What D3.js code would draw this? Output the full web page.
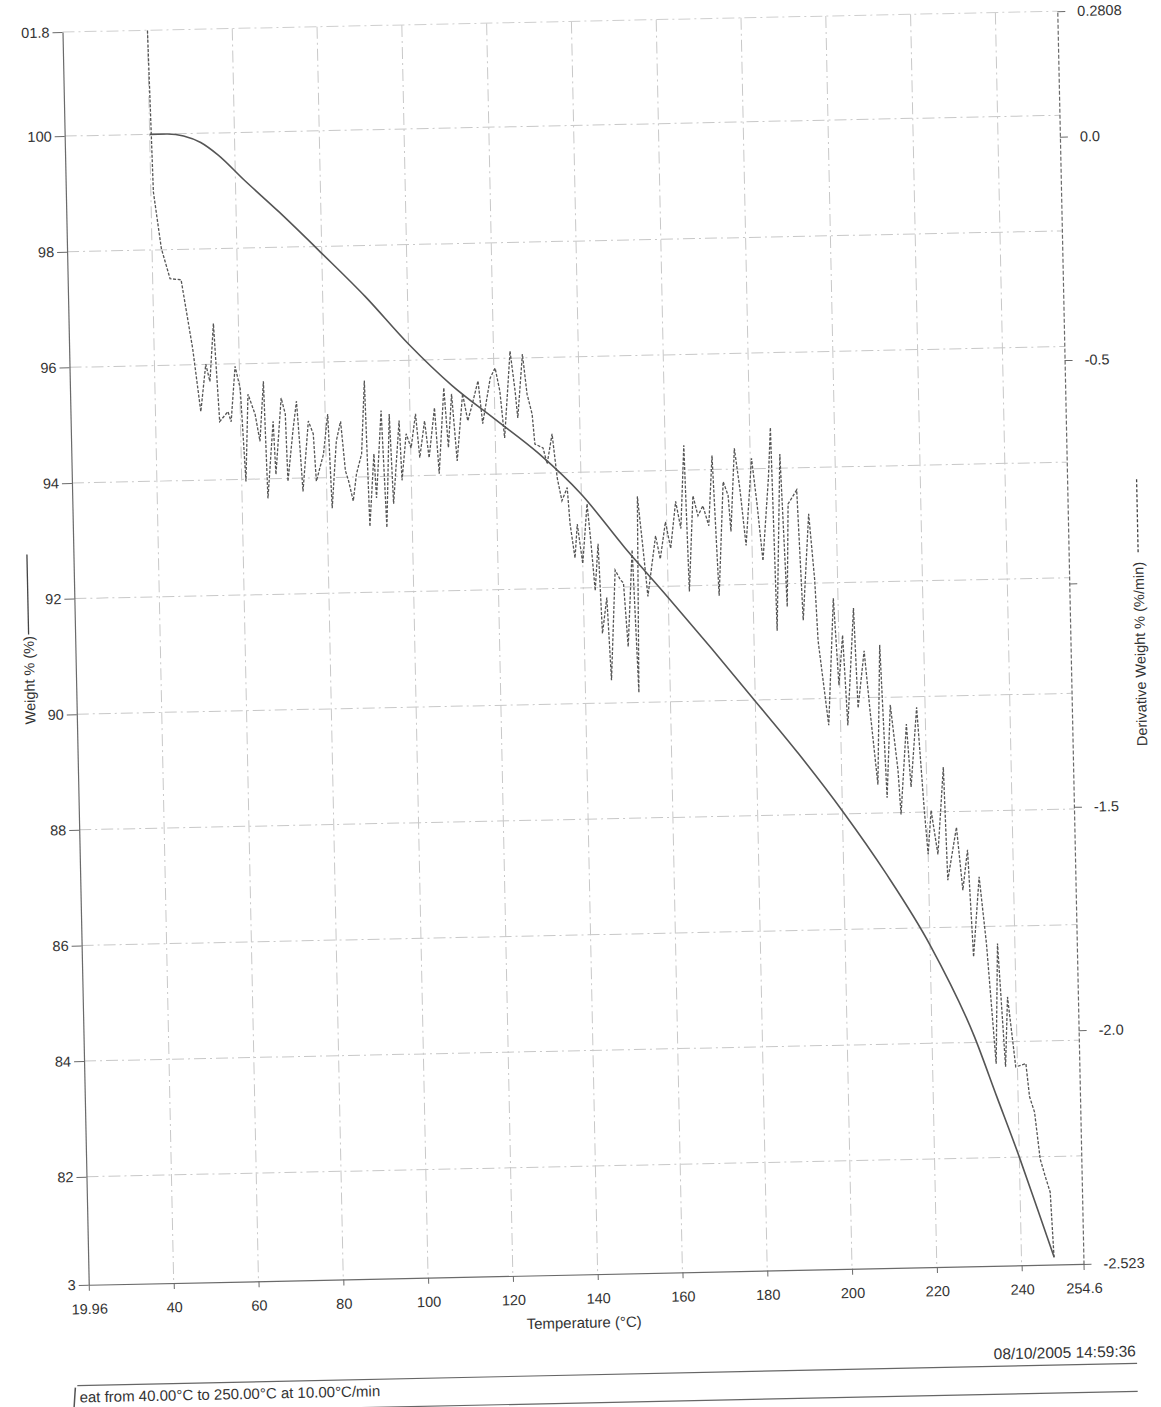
<!DOCTYPE html>
<html><head><meta charset="utf-8">
<script src="https://cdn.jsdelivr.net/npm/d3@7"></script>
<style>
body{margin:0;background:#fff;}
text{font-family:"Liberation Sans",Arial,sans-serif;fill:#333;}
</style>
</head><body>
<svg id="chart" width="1161" height="1407"></svg>
<script>
// ---- data ----
const tempTicks = [19.96, 40, 60, 80, 100, 120, 140, 160, 180, 200, 220, 240, 254.6];
const tempTickLabels = ["19.96","40","60","80","100","120","140","160","180","200","220","240","254.6"];
const weightTicks = [101.8, 100, 98, 96, 94, 92, 90, 88, 86, 84, 82, 80.13];
const weightTickLabels = ["01.8","100","98","96","94","92","90","88","86","84","82","3"];
const derivTicks = [0.2808, 0.0, -0.5, -1.0, -1.5, -2.0, -2.523];
const derivTickLabels = ["0.2808","0.0","-0.5","","-1.5","-2.0","-2.523"];
const tempDomain = [19.96, 254.6];
const weightDomain = [80.13, 101.8];
const derivDomain = [-2.523, 0.2808];

// Weight % (solid)
const weightReadings = [[40,100.0],[44,100.0],[48,99.96],[52,99.84],[56,99.62],[62,99.18],[70,98.62],[80,97.88],
 [90,97.12],[100,96.28],[110,95.55],[120,94.95],[130,94.35],[140,93.62],[150,92.68],[160,91.8],[170,90.9],
 [180,89.98],[190,89.05],[200,88.05],[210,86.95],[220,85.7],[230,84.1],[235,83.05],[240,82.0],[244,81.1],[247.7,80.26]];

// Derivative weight % (dashed)
const derivReadings = [[40.0,0.28],[40.6,-0.081],[42.2,-0.208],[44.1,-0.276],[46.7,-0.279],[49.1,-0.434],[50.7,-0.575],
 [52.1,-0.469],[53.0,-0.508],[54.1,-0.378],[55.1,-0.598],[57.1,-0.576],[57.8,-0.599],[59.0,-0.475],[60.1,-0.525],
 [61.0,-0.733],[61.9,-0.538],[63.5,-0.584],[64.5,-0.644],[65.6,-0.510],[66.1,-0.772],[67.7,-0.600],[68.1,-0.719],
 [69.7,-0.548],[70.6,-0.584],[70.9,-0.735],[72.4,-0.616],[73.3,-0.556],[73.9,-0.661],[74.4,-0.758],[76.0,-0.601],
 [77.1,-0.630],[77.6,-0.736],[79.4,-0.676],[80.6,-0.586],[81.2,-0.797],[82.5,-0.647],[83.6,-0.603],[84.5,-0.714],
 [85.2,-0.737],[86.2,-0.782],[87.1,-0.721],[88.4,-0.677],[89.4,-0.513],[90.0,-0.840],[91.3,-0.677],[91.7,-0.776],
 [93.2,-0.581],[94.0,-0.843],[95.1,-0.589],[95.7,-0.790],[97.4,-0.604],[97.8,-0.738],[99.0,-0.634],[100.1,-0.666],
 [101.3,-0.590],[102.1,-0.688],[103.4,-0.606],[104.3,-0.689],[105.8,-0.577],[106.6,-0.725],[108.1,-0.533],[108.9,-0.667],
 [109.9,-0.547],[110.9,-0.697],[112.5,-0.547],[113.6,-0.608],[114.5,-0.579],[116.2,-0.519],[117.1,-0.615],[119.1,-0.513],
 [120.3,-0.491],[121.3,-0.543],[122.2,-0.648],[123.9,-0.454],[124.9,-0.544],[125.4,-0.604],[126.8,-0.461],[127.7,-0.551],
 [128.8,-0.596],[129.3,-0.663],[131.2,-0.672],[132.1,-0.708],[133.4,-0.641],[134.4,-0.740],[135.4,-0.791],[136.7,-0.762],
 [137.2,-0.843],[138.2,-0.920],[138.9,-0.844],[140.0,-0.933],[141.3,-0.799],[142.0,-0.882],[142.8,-0.994],[143.7,-0.889],
 [144.3,-1.090],[145.5,-1.010],[146.2,-1.195],[147.6,-0.949],[148.8,-0.971],[149.5,-0.978],[150.3,-1.121],[151.7,-0.904],
 [152.6,-1.224],[153.2,-0.785],[154.3,-0.904],[155.2,-1.009],[157.3,-0.874],[158.3,-0.926],[159.7,-0.843],[160.8,-0.903],
 [162.2,-0.798],[163.3,-0.859],[164.4,-0.673],[165.0,-1.000],[166.3,-0.786],[167.4,-0.831],[168.6,-0.809],[169.9,-0.854],
 [171.0,-0.697],[172.0,-1.011],[173.5,-0.756],[174.6,-0.787],[175.1,-0.868],[176.3,-0.682],[177.4,-0.772],[178.6,-0.900],
 [180.3,-0.705],[181.4,-0.810],[182.5,-0.935],[184.2,-0.749],[184.9,-0.637],[185.5,-1.092],[187.0,-0.697],[188.0,-1.039],
 [188.7,-0.809],[190.8,-0.778],[191.7,-1.070],[193.5,-0.832],[194.6,-0.980],[195.1,-1.116],[197.2,-1.306],[198.9,-1.022],
 [199.8,-1.217],[200.9,-1.105],[201.7,-1.307],[203.6,-1.045],[204.2,-1.269],[205.9,-1.141],[207.0,-1.275],[208.5,-1.441],
 [209.6,-1.128],[210.6,-1.471],[211.8,-1.263],[213.3,-1.410],[213.8,-1.509],[215.5,-1.307],[216.3,-1.448],[218.0,-1.270],
 [219.3,-1.500],[220.0,-1.599],[220.9,-1.501],[222.3,-1.600],[224.0,-1.405],[224.5,-1.658],[226.8,-1.540],[228.0,-1.681],
 [229.3,-1.591],[230.2,-1.831],[231.9,-1.652],[233.3,-1.802],[235.0,-2.071],[235.9,-1.802],[237.2,-2.078],[238.0,-1.922],
 [239.6,-2.079],[242.0,-2.072],[242.7,-2.146],[243.8,-2.181],[244.9,-2.286],[246.0,-2.325],[247.1,-2.361],[247.7,-2.510]];

const gridTemps = [40, 60, 80, 100, 120, 140, 160, 180, 200, 220, 240];
const gridWeights = [100, 98, 96, 94, 92, 90, 88, 86, 84, 82];

const xTitle = "Temperature (°C)";
const yLeftTitle = "Weight % (%)";
const yRightTitle = "Derivative Weight % (%/min)";
const stamp = "08/10/2005 14:59:36";
const method = "eat from 40.00°C to 250.00°C at 10.00°C/min";

// ---- layout ----
const P = {left:75.5, right:1070.5, top:21.5, bottom:1274.5};
const svg = d3.select("#chart");
svg.append("rect").attr("width",1161).attr("height",1407).attr("fill","#fff");
const g = svg.append("g").attr("transform","rotate(-1.2 573 648)");

const x = d3.scaleLinear().domain(tempDomain).range([P.left, P.right]);
const yW = d3.scaleLinear().domain(weightDomain).range([P.bottom, P.top]);
const yD = d3.scaleLinear().domain(derivDomain).range([P.bottom, P.top]);

// grid
g.append("g").selectAll("line").data(gridTemps).join("line")
  .attr("x1", d=>x(d)).attr("x2", d=>x(d)).attr("y1", P.top).attr("y2", P.bottom)
  .attr("stroke","#c8c8c8").attr("stroke-width",1).attr("stroke-dasharray","12,4,2,4");
g.append("g").selectAll("line").data(gridWeights).join("line")
  .attr("x1", P.left).attr("x2", P.right).attr("y1", d=>yW(d)).attr("y2", d=>yW(d))
  .attr("stroke","#c8c8c8").attr("stroke-width",1).attr("stroke-dasharray","12,4,2,4");
// top border
g.append("line").attr("x1",P.left).attr("x2",P.right).attr("y1",P.top).attr("y2",P.top)
  .attr("stroke","#cfcfcf").attr("stroke-dasharray","12,4,2,4");

// axes
function styleAxis(sel, dashed){
  sel.selectAll("path.domain").attr("stroke","#6a6a6a").attr("stroke-width",1.2)
     .attr("stroke-dasharray", dashed ? "4,2" : null);
  sel.selectAll(".tick line").attr("stroke","#6a6a6a");
  sel.selectAll(".tick text").attr("fill","#333").style("font-size","14.5px")
     .style("font-family","'Liberation Sans',Arial,sans-serif");
}
const axB = g.append("g").attr("transform",`translate(0,${P.bottom})`)
  .call(d3.axisBottom(x).tickValues(tempTicks).tickFormat((d,i)=>tempTickLabels[i]).tickSize(6).tickPadding(13).tickSizeOuter(0));
styleAxis(axB,false);
const axL = g.append("g").attr("transform",`translate(${P.left},0)`)
  .call(d3.axisLeft(yW).tickValues(weightTicks).tickFormat((d,i)=>weightTickLabels[i]).tickSize(10).tickPadding(3).tickSizeOuter(0));
styleAxis(axL,false);
const axR = g.append("g").attr("transform",`translate(${P.right},0)`)
  .call(d3.axisRight(yD).tickValues(derivTicks).tickFormat((d,i)=>derivTickLabels[i]).tickSize(8).tickPadding(12).tickSizeOuter(0));
styleAxis(axR,true);

// curves
const lineW = d3.line().x(d=>x(d[0])).y(d=>yW(d[1])).curve(d3.curveMonotoneX);
g.append("path").datum(weightReadings).attr("d",lineW)
  .attr("fill","none").attr("stroke","#555").attr("stroke-width",1.6);
const lineD = d3.line().x(d=>x(d[0])).y(d=>yD(d[1]));
g.append("path").datum(derivReadings).attr("d",lineD)
  .attr("fill","none").attr("stroke","#555").attr("stroke-width",1.3).attr("stroke-dasharray","3,1.6");

// titles
g.append("text").attr("x",570).attr("y",1328).attr("text-anchor","middle")
  .style("font-size","15px").text(xTitle);
const lt = g.append("g").attr("transform","translate(34,713) rotate(-90)");
lt.append("text").attr("x",0).attr("y",0).style("font-size","14.5px").text(yLeftTitle);
lt.append("line").attr("x1",90).attr("x2",170).attr("y1",-5).attr("y2",-5).attr("stroke","#444").attr("stroke-width",1.3);
const rt = g.append("g").attr("transform","translate(1145,758) rotate(-90)");
rt.append("text").attr("x",0).attr("y",0).style("font-size","14.5px").text(yRightTitle);
rt.append("line").attr("x1",194).attr("x2",268).attr("y1",-5).attr("y2",-5).attr("stroke","#444")
  .attr("stroke-width",1.3).attr("stroke-dasharray","3,2");

// footer
g.append("text").attr("x",1121).attr("y",1368).attr("text-anchor","end").style("font-size","15.5px").text(stamp);
g.append("line").attr("x1",62).attr("x2",1122).attr("y1",1375).attr("y2",1375).attr("stroke","#666").attr("stroke-width",1.2);
g.append("line").attr("x1",62).attr("x2",1122).attr("y1",1403).attr("y2",1403).attr("stroke","#666").attr("stroke-width",1.2);
g.append("line").attr("x1",60).attr("x2",58).attr("y1",1377).attr("y2",1400).attr("stroke","#555").attr("stroke-width",1.5);
g.append("text").attr("x",64).attr("y",1392).style("font-size","15px").text(method);
</script>
</body></html>
